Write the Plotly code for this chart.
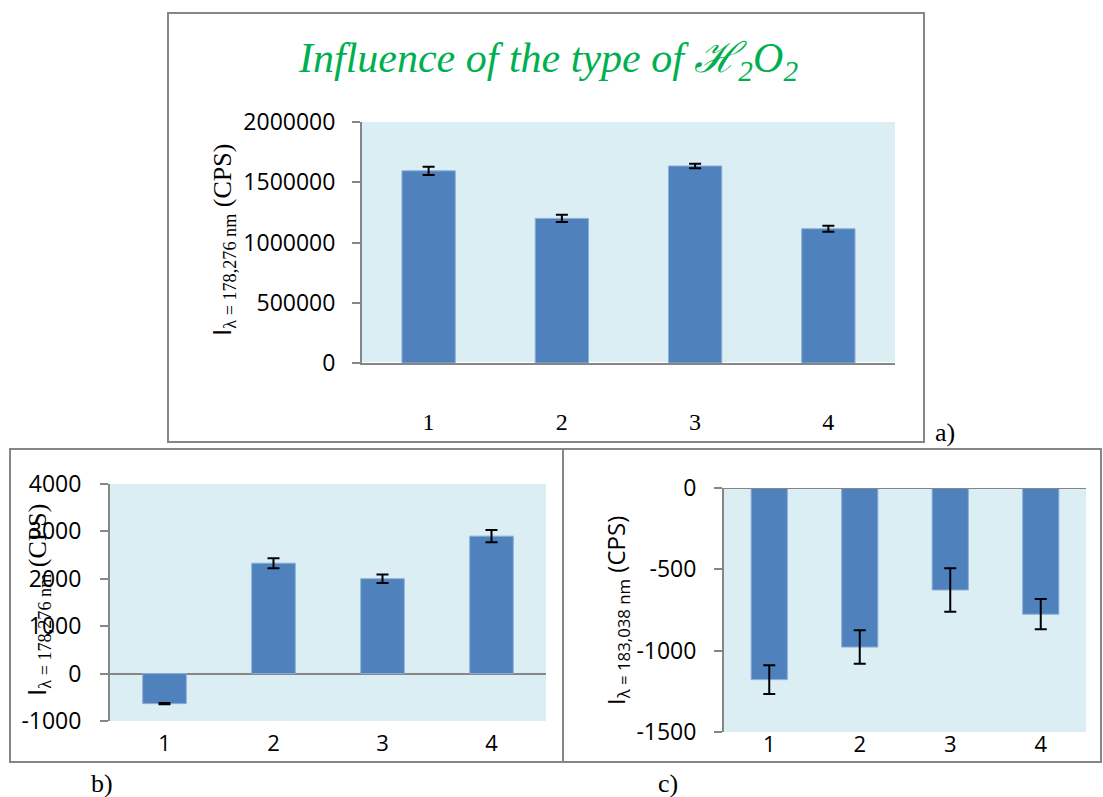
import plotly.graph_objects as go

W, H = 1103, 797

# ---- data ----
categories = ["1", "2", "3", "4"]

a_values = [1595000, 1200000, 1635000, 1114000]
a_errors = [34000, 30000, 18000, 25000]

b_values = [-634, 2330, 2002, 2900]
b_errors = [15, 105, 90, 130]

c_values = [-1178, -978, -627, -776]
c_errors = [88, 103, 134, 93]

a_ticks = [0, 500000, 1000000, 1500000, 2000000]
a_ticktext = ["0", "500000", "1000000", "1500000", "2000000"]
b_ticks = [-1000, 0, 1000, 2000, 3000, 4000]
b_ticktext = ["-1000", "0", "1000", "2000", "3000", "4000"]
c_ticks = [-1500, -1000, -500, 0]
c_ticktext = ["-1500", "-1000", "-500", "0"]

# ---- styling ----
BAR = "#4F81BD"
BAR_EDGE = "#8DAFD8"
PLOT_BG = "#DBEEF4"
GREY = "#868686"
SANS = "Open Sans"
SERIF = "Liberation Serif"


def px_x(v):
    return v / W


def px_y(v):
    return 1 - v / H


def bar_trace(vals, errs, xa, ya):
    return go.Bar(
        x=categories, y=vals, xaxis=xa, yaxis=ya,
        marker=dict(color=BAR, line=dict(color=BAR_EDGE, width=1)),
        error_y=dict(type="data", array=errs, visible=True,
                     color="black", thickness=2, width=6),
        showlegend=False,
    )


fig = go.Figure()
fig.add_trace(bar_trace(a_values, a_errors, "x", "y"))
fig.add_trace(bar_trace(b_values, b_errors, "x2", "y2"))
fig.add_trace(bar_trace(c_values, c_errors, "x3", "y3"))

yax_common = dict(showgrid=False, showline=True, linecolor=GREY, linewidth=2,
                  ticks="outside", ticklen=8, tickwidth=2, tickcolor=GREY,
                  tickmode="array")

fig.update_layout(
    width=W, height=H,
    margin=dict(l=0, r=0, t=0, b=0, pad=0, autoexpand=False),
    showlegend=False,
    paper_bgcolor="white",
    plot_bgcolor=PLOT_BG,
    bargap=0.6,
    xaxis=dict(domain=[px_x(362), px_x(895)], anchor="y", type="category",
               showgrid=False, showline=True, linecolor=GREY, linewidth=2,
               ticks="", ticklabelstandoff=36,
               tickfont=dict(family=SERIF, size=24, color="black")),
    yaxis=dict(domain=[px_y(363), px_y(122)], anchor="x",
               range=[0, 2000000], tickvals=a_ticks, ticktext=a_ticktext,
               ticklabelstandoff=12,
               tickfont=dict(family=SANS, size=23, color="black"),
               **yax_common),
    xaxis2=dict(domain=[px_x(110), px_x(546)], anchor="y2", type="category",
                showgrid=False, showline=False, ticks="", ticklabelstandoff=7,
                tickfont=dict(family=SANS, size=22, color="black")),
    yaxis2=dict(domain=[px_y(721), px_y(484)], anchor="x2",
                range=[-1000, 4000], tickvals=b_ticks, ticktext=b_ticktext,
                ticklabelstandoff=14,
                zeroline=True, zerolinecolor=GREY, zerolinewidth=2,
                tickfont=dict(family=SANS, size=23, color="black"),
                **yax_common),
    xaxis3=dict(domain=[px_x(724), px_x(1086)], anchor="y3", type="category",
                showgrid=False, showline=False, ticks="", ticklabelstandoff=-3,
                tickfont=dict(family=SANS, size=22, color="black")),
    yaxis3=dict(domain=[px_y(732), px_y(488)], anchor="x3",
                range=[-1500, 0], tickvals=c_ticks, ticktext=c_ticktext,
                ticklabelstandoff=13, zeroline=False,
                tickfont=dict(family=SANS, size=23, color="black"),
                **yax_common),
)

# zero line along the top of panel c
fig.add_shape(type="line", xref="x3 domain", yref="y3", x0=0, x1=1, y0=0, y1=0,
              line=dict(color=GREY, width=2), layer="above")

# panel frames
frame = dict(color=GREY, width=2)
fig.add_shape(type="rect", xref="paper", yref="paper",
              x0=px_x(168), x1=px_x(924), y0=px_y(442), y1=px_y(13), line=frame)
fig.add_shape(type="rect", xref="paper", yref="paper",
              x0=px_x(10), x1=px_x(563), y0=px_y(762), y1=px_y(449), line=frame)
fig.add_shape(type="rect", xref="paper", yref="paper",
              x0=px_x(563), x1=px_x(1101), y0=px_y(762), y1=px_y(449), line=frame)

# title of the top panel
fig.add_annotation(
    text="<i>Influence of the type of \u210B<sub>2</sub>O<sub>2</sub></i>",
    xref="paper", yref="paper", x=px_x(548), y=px_y(61),
    xanchor="center", yanchor="middle", showarrow=False,
    font=dict(family=SERIF, size=42, color="#00B050"),
)

# y-axis titles
i_sans = "<span style='font-family:Open Sans'>I</span>"
fig.add_annotation(
    text=i_sans + "<sub>\u03bb = 178,276 nm</sub> (CPS)",
    xref="paper", yref="paper", x=px_x(222), y=px_y(240), textangle=-90,
    xanchor="center", yanchor="middle", showarrow=False,
    font=dict(family=SERIF, size=26, color="black"),
)
fig.add_annotation(
    text=i_sans + "<sub>\u03bb = 178,276 nm</sub> (CPS)",
    xref="paper", yref="paper", x=px_x(36), y=px_y(600), textangle=-90,
    xanchor="center", yanchor="middle", showarrow=False,
    font=dict(family=SERIF, size=26, color="black"),
)
fig.add_annotation(
    text="I<sub>\u03bb = 183,038 nm</sub> (CPS)",
    xref="paper", yref="paper", x=px_x(617), y=px_y(611), textangle=-90,
    xanchor="center", yanchor="middle", showarrow=False,
    font=dict(family=SANS, size=24, color="black"),
)

# panel letters
for label, xp, yp in [("a)", 945, 432), ("b)", 102, 783), ("c)", 668, 783)]:
    fig.add_annotation(text=label, xref="paper", yref="paper",
                       x=px_x(xp), y=px_y(yp), xanchor="center", yanchor="middle",
                       showarrow=False,
                       font=dict(family=SERIF, size=26, color="black"))

fig.write_html("out.html")
